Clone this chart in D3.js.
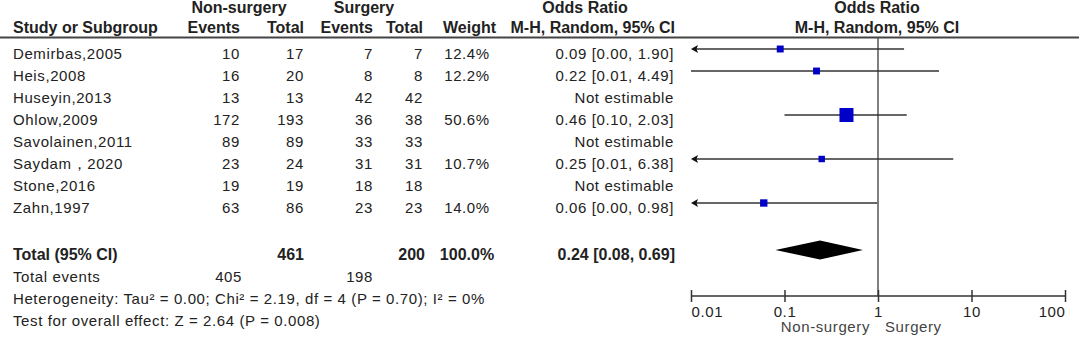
<!DOCTYPE html>
<html lang="en">
<head>
    <meta charset="UTF-8">
    <title>Forest plot - Non-surgery vs Surgery</title>
    <script src="https://d3js.org/d3.v7.min.js"></script>
    <style>
        body {
            margin: 0;
            background: #fff;
        }
        svg text {
            font-family: "Liberation Sans", Arial, sans-serif;
            font-size: 15px;
            fill: #222;
        }
        .reg {
            letter-spacing: 0.6px;
        }
        .bold {
            font-weight: bold;
            font-size: 16px;
        }
    </style>
</head>
<body>
    <svg id="chart" width="1080" height="342"></svg>
    <script>
        // Study data
        const studies = ["Demirbas,2005", "Heis,2008", "Huseyin,2013", "Ohlow,2009",
                         "Savolainen,2011", "Saydam\uFF0C2020", "Stone,2016", "Zahn,1997"];
        const nsEvents = [10, 16, 13, 172, 89, 23, 19, 63];
        const nsTotal = [17, 20, 13, 193, 89, 24, 19, 86];
        const sEvents = [7, 8, 42, 36, 33, 31, 18, 23];
        const sTotal = [7, 8, 42, 38, 33, 31, 18, 23];
        const weights = [12.4, 12.2, null, 50.6, null, 10.7, null, 14.0];
        const orEst = [0.09, 0.22, null, 0.46, null, 0.25, null, 0.06];
        const orLow = [0.00, 0.01, null, 0.10, null, 0.01, null, 0.00];
        const orHigh = [1.90, 4.49, null, 2.03, null, 6.38, null, 0.98];
        // lower bound runs off the left edge of the plot (arrow drawn)
        const offLeft = [true, false, false, false, false, true, false, true];

        const total = { ns: 461, s: 200, weight: "100.0%", est: 0.24, low: 0.08, high: 0.69 };
        const totalEvents = { ns: 405, s: 198 };
        const hetText = "Heterogeneity: Tau\u00B2 = 0.00; Chi\u00B2 = 2.19, df = 4 (P = 0.70); I\u00B2 = 0%";
        const effectText = "Test for overall effect: Z = 2.64 (P = 0.008)";
        const tickVals = [0.01, 0.1, 1, 10, 100];
        const tickLabels = ["0.01", "0.1", "1", "10", "100"];

        const svg = d3.select("#chart");

        // column anchors
        const col = { study: 13, nsE: 240, nsT: 304, sE: 373, sT: 423, w: 496, wMid: 467, or: 674 };

        // row baselines
        const rowY = d3.scaleLinear().domain([0, 1]).range([59, 81]);
        const totalY = 260, evY = 282, hetY = 304, effY = 326;
        const axisY = 296, headerLineY = 37.5;

        // forest plot scale
        const x = d3.scaleLog().domain([0.01, 100]).range([691, 1065]);
        const boxSize = d3.scaleSqrt().domain([0, 50.6]).range([0, 14]);

        function txt(xp, yp, s, anchor, cls) {
            svg.append("text")
                .attr("x", xp).attr("y", yp)
                .attr("text-anchor", anchor)
                .attr("class", cls)
                .text(s);
        }

        // headers
        txt(239, 13, "Non-surgery", "middle", "bold");
        txt(364, 13, "Surgery", "middle", "bold");
        txt(585, 13, "Odds Ratio", "middle", "bold");
        txt(877, 13, "Odds Ratio", "middle", "bold");
        txt(col.study, 33, "Study or Subgroup", "start", "bold");
        txt(col.nsE, 33, "Events", "end", "bold");
        txt(col.nsT, 33, "Total", "end", "bold");
        txt(col.sE, 33, "Events", "end", "bold");
        txt(col.sT, 33, "Total", "end", "bold");
        txt(col.w, 33, "Weight", "end", "bold");
        txt(col.or + 1, 33, "M-H, Random, 95% CI", "end", "bold");
        txt(877, 33, "M-H, Random, 95% CI", "middle", "bold");

        svg.append("line")
            .attr("x1", 0).attr("x2", 1079)
            .attr("y1", headerLineY).attr("y2", headerLineY)
            .attr("stroke", "#444").attr("stroke-width", 2);

        // null line
        svg.append("line")
            .attr("x1", x(1)).attr("x2", x(1))
            .attr("y1", headerLineY).attr("y2", axisY)
            .attr("stroke", "#555").attr("stroke-width", 1.5);

        // study rows
        studies.forEach((name, i) => {
            const y = rowY(i);
            txt(col.study, y, name, "start", "reg");
            txt(col.nsE, y, nsEvents[i], "end", "reg");
            txt(col.nsT, y, nsTotal[i], "end", "reg");
            txt(col.sE, y, sEvents[i], "end", "reg");
            txt(col.sT, y, sTotal[i], "end", "reg");
            if (weights[i] != null) {
                txt(col.wMid, y, weights[i].toFixed(1) + "%", "middle", "reg");
                txt(col.or, y, `${orEst[i].toFixed(2)} [${orLow[i].toFixed(2)}, ${orHigh[i].toFixed(2)}]`, "end", "reg");

                const yc = y - 10;
                const x0 = offLeft[i] ? x(0.01) : x(Math.max(orLow[i], 0.01));
                svg.append("line")
                    .attr("x1", x0 + (offLeft[i] ? 3 : 0)).attr("x2", x(orHigh[i]))
                    .attr("y1", yc).attr("y2", yc)
                    .attr("stroke", "#333").attr("stroke-width", 1.5);
                if (offLeft[i]) {
                    svg.append("path")
                        .attr("d", `M${x0},${yc} L${x0 + 7},${yc - 4} L${x0 + 5.5},${yc} L${x0 + 7},${yc + 4} Z`)
                        .attr("fill", "#111");
                }
                const b = boxSize(weights[i]);
                svg.append("rect")
                    .attr("x", x(orEst[i]) - b / 2).attr("y", yc - b / 2)
                    .attr("width", b).attr("height", b)
                    .attr("fill", "#0000c8");
            } else {
                txt(col.or, y, "Not estimable", "end", "reg");
            }
        });

        // totals
        txt(col.study, totalY, "Total (95% CI)", "start", "bold");
        txt(col.nsT, totalY, total.ns, "end", "bold");
        txt(col.sT + 2, totalY, total.s, "end", "bold");
        txt(col.wMid, totalY, total.weight, "middle", "bold");
        txt(col.or + 1, totalY, `${total.est.toFixed(2)} [${total.low.toFixed(2)}, ${total.high.toFixed(2)}]`, "end", "bold");

        const dy = totalY - 10;
        svg.append("path")
            .attr("d", `M${x(total.low)},${dy} L${x(total.est)},${dy - 9.5} L${x(total.high)},${dy} L${x(total.est)},${dy + 9.5} Z`)
            .attr("fill", "#000");

        txt(col.study, evY, "Total events", "start", "reg");
        txt(col.nsE + 2, evY, totalEvents.ns, "end", "reg");
        txt(col.sE, evY, totalEvents.s, "end", "reg");
        txt(col.study, hetY, hetText, "start", "reg");
        txt(col.study, effY, effectText, "start", "reg");

        // x axis
        const axis = svg.append("g")
            .attr("transform", `translate(0,${axisY})`)
            .call(d3.axisBottom(x)
                .tickValues(tickVals)
                .tickFormat((d, i) => tickLabels[i])
                .tickSize(6)
                .tickPadding(0));
        axis.select(".domain")
            .attr("d", `M${x(0.01)},0H${x(100)}`)
            .attr("stroke", "#333").attr("stroke-width", 1.5);
        axis.selectAll(".tick line")
            .attr("y1", -6).attr("y2", 6)
            .attr("stroke", "#333").attr("stroke-width", 1.5);
        axis.selectAll(".tick text")
            .attr("y", 21).attr("dy", null)
            .attr("class", "reg")
            .style("font-size", "15px")
            .attr("text-anchor", (d, i) => i === 0 ? "start" : (i === tickVals.length - 1 ? "end" : "middle"));
        axis.attr("font-family", null).attr("font-size", null);

        svg.append("text")
            .attr("x", x(1) - 8).attr("y", 332)
            .attr("text-anchor", "end").attr("class", "reg")
            .style("fill", "#444")
            .text("Non-surgery");
        svg.append("text")
            .attr("x", x(1) + 7).attr("y", 332)
            .attr("text-anchor", "start").attr("class", "reg")
            .style("fill", "#444")
            .text("Surgery");
    </script>
</body>
</html>
